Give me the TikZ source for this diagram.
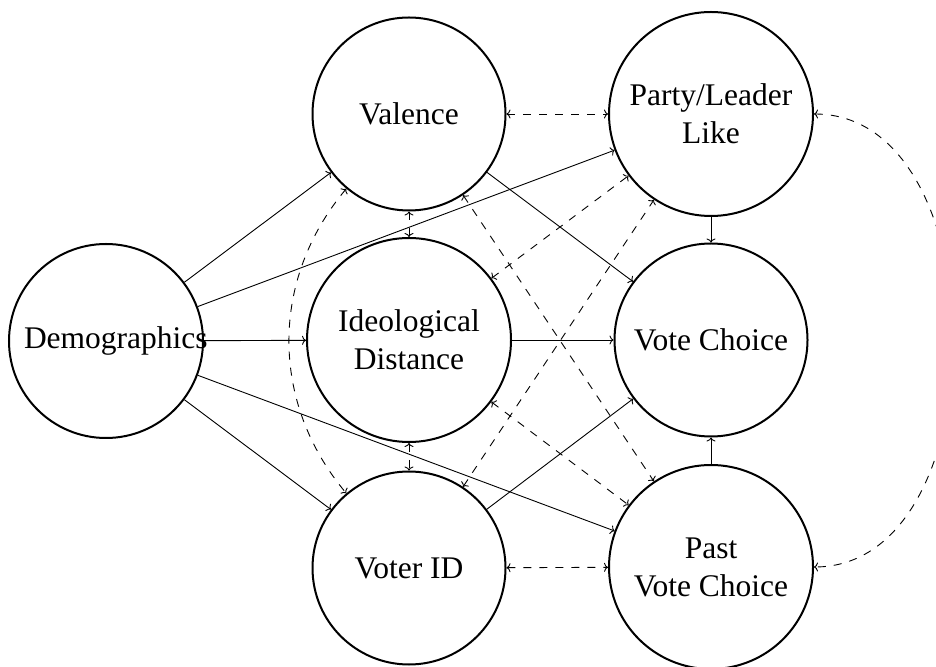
\documentclass[tikz,border=0pt]{standalone}
\usepackage{fontspec}
\setmainfont{Liberation Serif}
\usetikzlibrary{arrows.meta}
\begin{document}
\begin{tikzpicture}[x=1pt,y=1pt,
  circ/.style={circle, draw, line width=2pt, inner sep=0pt, align=center,
    font=\fontsize{31.5}{38}\selectfont},
  small/.style={circ, minimum size=193pt},
  big/.style={circ, minimum size=204pt},
  link/.style={line width=0.9pt, -{To[length=4pt,width=9pt]}},
  dlink/.style={line width=0.9pt, dash pattern=on 8pt off 8pt, {To[length=4pt,width=9pt]}-{To[length=4pt,width=9pt]}}
]
\useasboundingbox (0,0) rectangle (936,666);
\node[small, minimum size=194pt] (demo) at (106,325) {\makebox[164pt][l]{Demographics}};
\node[small] (val) at (409,552) {Valence};
\node[big] (ideo) at (409,326) {Ideological\\Distance};
\node[small] (vid) at (409,98) {Voter ID};
\node[big] (party) at (711,552) {Party/Leader\\Like};
\node[small] (vote) at (711,326) {Vote Choice};
\node[big] (past) at (711,99) {Past\\Vote Choice};

\draw[link] (demo) -- (val);
\draw[link] (demo) -- (party);
\draw[link] (demo) -- (ideo);
\draw[link] (demo) -- (vid);
\draw[link] (demo) -- (past);
\draw[link] (val) -- (vote);
\draw[link] (ideo) -- (vote);
\draw[link] (vid) -- (vote);
\draw[link] (party) -- (vote);
\draw[link] (past) -- (vote);

\draw[dlink] (val) -- (party);
\draw[dlink] (vid) -- (past);
\draw[dlink] (val) -- (ideo);
\draw[dlink] (ideo) -- (vid);
\draw[dlink] (val) -- (past);
\draw[dlink] (vid) -- (party);
\draw[dlink] (ideo) -- (party);
\draw[dlink] (ideo) -- (past);
\draw[dlink] (val) to[bend right=40] (vid);
\draw[dlink] (party) to[bend left=90, looseness=1.05] (past);
\end{tikzpicture}
\end{document}
